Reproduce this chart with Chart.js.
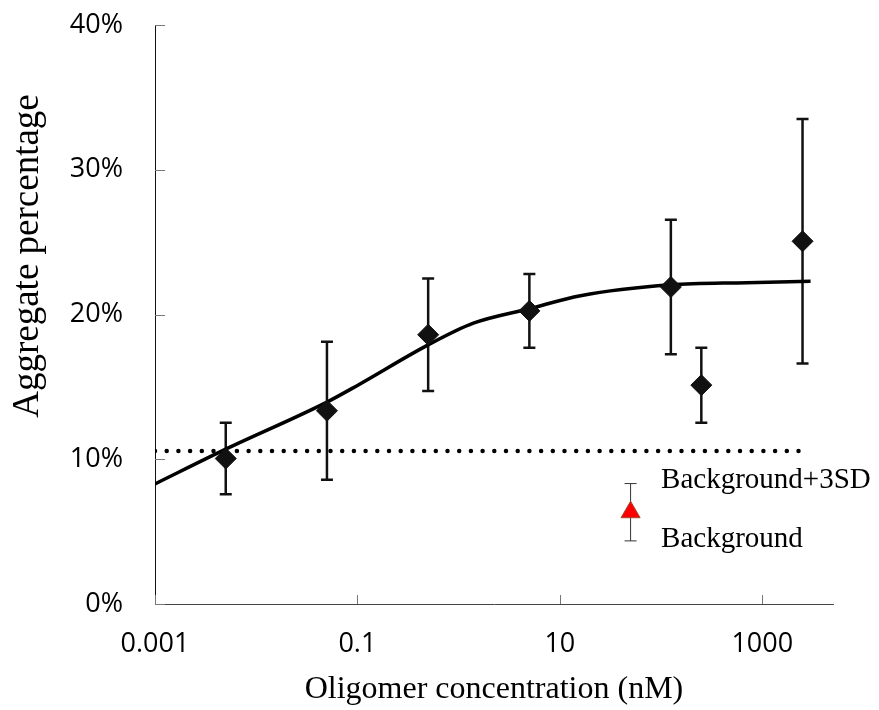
<!DOCTYPE html>
<html>
<head>
<meta charset="utf-8">
<title>Aggregate percentage vs oligomer concentration</title>
<script src="https://cdn.jsdelivr.net/npm/chart.js@4.4.1/dist/chart.umd.min.js"></script>
<style>
    body { margin: 0; background: #fff; }
    #wrap { width: 879px; height: 710px; }
</style>
</head>
<body>
<div id="wrap"><canvas id="agg-chart"></canvas></div>
<script>
// measured points (nM, %)
const pointX = [0.005, 0.05, 0.5, 5, 125, 250, 2500];
const pointY = [10.05, 13.35, 18.6, 20.25, 21.9, 15.12, 25.06];
const pointErr = [2.47, 4.77, 3.88, 2.54, 4.65, 2.59, 8.44];

// fitted curve
const curveX = [0.001, 0.005, 0.05, 0.1, 0.5, 1.4, 5, 16, 125, 700, 3000];
const curveY = [8.3, 10.7, 13.95, 15.1, 17.9, 19.4, 20.4, 21.3, 22.05, 22.2, 22.3];

// background + 3SD threshold
const thresholdX = [0.001, 2500];
const thresholdY = [10.57, 10.57];

// background point
const bgX = [50];
const bgY = [6.34];
const bgErr = [1.98];

const xTicks = [0.001, 0.1, 10, 1000];
const xTickLabels = ['0.001', '0.1', '10', '1000'];
const yTicks = [0, 10, 20, 30, 40];

const yTitle = 'Aggregate percentage';
const noteText = ['Background+3SD', 'Background'];
const noteX = [100, 100];
const noteY = [7.98, 3.95];

function toPoints(xs, ys) {
    return xs.map((x, i) => ({ x: x, y: ys[i] }));
}

function drawErrorBar(ctx, px, top, bottom, cap, width, color) {
    ctx.save();
    ctx.strokeStyle = color;
    ctx.lineWidth = width;
    ctx.beginPath();
    ctx.moveTo(px, top);
    ctx.lineTo(px, bottom);
    ctx.moveTo(px - cap / 2, top);
    ctx.lineTo(px + cap / 2, top);
    ctx.moveTo(px - cap / 2, bottom);
    ctx.lineTo(px + cap / 2, bottom);
    ctx.stroke();
    ctx.restore();
}

const marksPlugin = {
    id: 'marks',
    beforeDatasetsDraw(chart) {
        const ctx = chart.ctx;
        const xs = chart.scales.x;
        const ys = chart.scales.y;
        const area = chart.chartArea;

        // tick marks point inward
        ctx.save();
        ctx.strokeStyle = '#777';
        ctx.lineWidth = 1;
        ctx.beginPath();
        ys.ticks.forEach(t => {
            const py = Math.round(ys.getPixelForValue(t.value)) + 0.5;
            ctx.moveTo(area.left, py);
            ctx.lineTo(area.left + 10, py);
        });
        xs.ticks.forEach(t => {
            const px = Math.round(xs.getPixelForValue(t.value)) + 0.5;
            ctx.moveTo(px, area.bottom);
            ctx.lineTo(px, area.bottom - 9);
        });
        ctx.stroke();
        ctx.restore();

        pointX.forEach((x, i) => {
            const px = xs.getPixelForValue(x);
            drawErrorBar(ctx, px,
                ys.getPixelForValue(pointY[i] + pointErr[i]),
                ys.getPixelForValue(pointY[i] - pointErr[i]),
                12, 2.5, '#111');
        });
        bgX.forEach((x, i) => {
            const px = xs.getPixelForValue(x);
            drawErrorBar(ctx, px,
                ys.getPixelForValue(bgY[i] + bgErr[i]),
                ys.getPixelForValue(bgY[i] - bgErr[i]),
                12, 1, '#333');
        });
    },
    afterDatasetsDraw(chart) {
        const ctx = chart.ctx;
        const xs = chart.scales.x;
        const ys = chart.scales.y;
        ctx.save();
        ctx.fillStyle = '#000';
        ctx.font = '29px "Liberation Serif", "Times New Roman", serif';
        ctx.textAlign = 'left';
        ctx.textBaseline = 'alphabetic';
        noteText.forEach((txt, i) => {
            ctx.fillText(txt, xs.getPixelForValue(noteX[i]), ys.getPixelForValue(noteY[i]));
        });
        ctx.restore();

        // y axis title sits above the middle of the axis in the original
        ctx.save();
        ctx.translate(28, 256);
        ctx.rotate(-Math.PI / 2);
        ctx.fillStyle = '#000';
        ctx.font = '37px "Liberation Serif", "Times New Roman", serif';
        ctx.textAlign = 'center';
        ctx.textBaseline = 'middle';
        ctx.fillText(yTitle, 0, 0);
        ctx.restore();
    }
};

const ctx = document.getElementById('agg-chart').getContext('2d');

const aggChart = new Chart(ctx, {
    type: 'scatter',
    data: {
        datasets: [
            {
                label: 'Aggregate',
                data: toPoints(pointX, pointY),
                pointStyle: 'rectRot',
                pointRadius: 10.5,
                backgroundColor: '#111',
                borderColor: '#111',
                borderWidth: 1,
                showLine: false
            },
            {
                label: 'Fit',
                type: 'line',
                data: toPoints(curveX, curveY),
                borderColor: '#000',
                borderWidth: 3.5,
                pointRadius: 0,
                cubicInterpolationMode: 'monotone',
                fill: false
            },
            {
                label: 'Background+3SD',
                type: 'line',
                data: toPoints(thresholdX, thresholdY),
                borderColor: '#000',
                borderWidth: 4.5,
                borderDash: [0, 11.7],
                borderCapStyle: 'round',
                pointRadius: 0,
                fill: false
            },
            {
                label: 'Background',
                data: toPoints(bgX, bgY),
                pointStyle: 'triangle',
                pointRadius: 11,
                backgroundColor: '#ff0000',
                borderColor: '#9a4a2a',
                borderWidth: 1,
                showLine: false
            }
        ]
    },
    options: {
        responsive: true,
        maintainAspectRatio: false,
        animation: false,
        layout: {
            padding: { left: 0, right: 46, top: 25, bottom: 0 }
        },
        plugins: {
            legend: { display: false },
            tooltip: { enabled: false }
        },
        scales: {
            x: {
                type: 'logarithmic',
                min: 0.001,
                max: 5000,
                afterBuildTicks: scale => {
                    scale.ticks = xTicks.map(v => ({ value: v }));
                },
                afterFit: scale => {
                    scale.height = 106;
                    scale.paddingLeft = 0;
                    scale.paddingRight = 0;
                },
                grid: { drawOnChartArea: false, drawTicks: false },
                border: { display: true, color: '#444', width: 1 },
                ticks: {
                    padding: 24,
                    color: '#000',
                    maxRotation: 0,
                    autoSkip: false,
                    font: { family: '"Open Sans", sans-serif', size: 27 },
                    callback: (value, index) => xTickLabels[index]
                },
                title: {
                    display: true,
                    text: 'Oligomer concentration (nM)',
                    color: '#000',
                    font: { family: '"Liberation Serif", "Times New Roman", serif', size: 32 },
                    padding: { top: 0, bottom: 1 }
                }
            },
            y: {
                min: 0,
                max: 40,
                afterBuildTicks: scale => {
                    scale.ticks = yTicks.map(v => ({ value: v }));
                },
                afterFit: scale => {
                    scale.width = 155;
                    scale.paddingTop = 0;
                    scale.paddingBottom = 0;
                },
                grid: { drawOnChartArea: false, drawTicks: false },
                border: { display: true, color: '#111', width: 1 },
                ticks: {
                    padding: 32,
                    color: '#000',
                    font: { family: '"Open Sans", sans-serif', size: 27 },
                    callback: value => value + '%'
                },
                title: { display: false }
            }
        }
    },
    plugins: [marksPlugin]
});
</script>
</body>
</html>
